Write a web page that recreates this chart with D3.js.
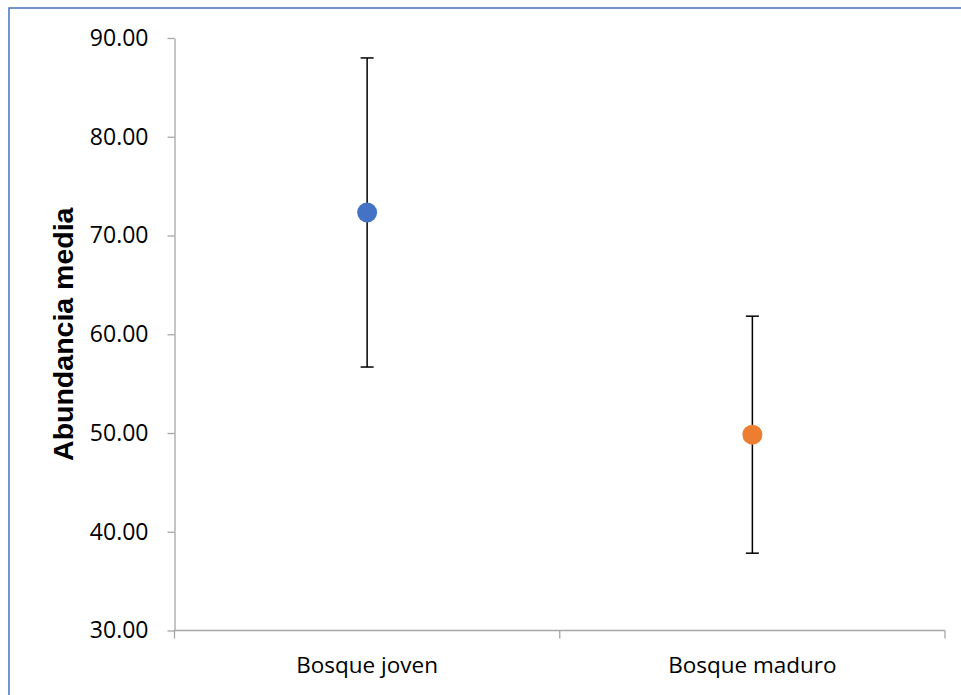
<!DOCTYPE html>
<html>
<head>
<meta charset="utf-8">
<script src="https://cdn.jsdelivr.net/npm/d3@7"></script>
<style>
  html, body { margin: 0; padding: 0; background: #fff; }
  svg { display: block; }
</style>
</head>
<body>
<svg id="chart" width="961" height="695"></svg>
<script>
// Mean abundance per forest type, with error half-widths
const categories = ["Bosque joven", "Bosque maduro"];
const means = [72.33, 49.83];
const errors = [15.65, 12.0];
const colors = ["#4472C4", "#ED7D31"];
const yTicks = [30, 40, 50, 60, 70, 80, 90];
const yLabel = "Abundancia media";

const svg = d3.select("#chart");
const W = 961, H = 695;
const margin = { left: 174.5, right: 16, top: 38, bottom: 64 };

// outer chart-area frame
svg.append("rect")
  .attr("x", 9).attr("y", 8)
  .attr("width", W + 20).attr("height", H + 20)
  .attr("fill", "none")
  .attr("stroke", "#4472C4")
  .attr("stroke-width", 1.5);

const x = d3.scaleBand()
  .domain(categories)
  .range([margin.left, W - margin.right])
  .paddingInner(0).paddingOuter(0);

const y = d3.scaleLinear()
  .domain([30, 90])
  .range([H - margin.bottom - 0.5, margin.top]);

const axisColor = "#A6A6A6";
const tickFont = "'Open Sans', 'Noto Sans', sans-serif";

// y axis
const yAxis = svg.append("g")
  .attr("transform", `translate(${margin.left},0)`)
  .call(d3.axisLeft(y).tickValues(yTicks).tickFormat(d3.format(".2f")).tickSizeInner(7).tickSizeOuter(0).tickPadding(19));
yAxis.select(".domain").attr("stroke", axisColor).attr("stroke-width", 1.3);
yAxis.selectAll(".tick line").attr("stroke", axisColor).attr("stroke-width", 1.3);
yAxis.selectAll(".tick text")
  .attr("fill", "#000")
  .style("font-family", tickFont)
  .style("font-size", "23px");

// x axis with ticks on category boundaries
const xAxisG = svg.append("g")
  .attr("transform", `translate(0,${y(30)})`);
xAxisG.append("line")
  .attr("x1", x.range()[0]).attr("x2", x.range()[1])
  .attr("stroke", axisColor).attr("stroke-width", 1.3);
const boundaries = categories.map(c => x(c)).concat([x.range()[1]]);
xAxisG.selectAll("line.tick")
  .data(boundaries)
  .join("line")
  .attr("class", "tick")
  .attr("x1", d => d).attr("x2", d => d)
  .attr("y1", 0).attr("y2", 8)
  .attr("stroke", axisColor).attr("stroke-width", 1.3);
xAxisG.selectAll("text")
  .data(categories)
  .join("text")
  .attr("x", d => x(d) + x.bandwidth() / 2)
  .attr("y", 42)
  .attr("text-anchor", "middle")
  .attr("fill", "#000")
  .style("font-family", tickFont)
  .style("font-size", "22.5px")
  .text(d => d);

// y axis title
svg.append("text")
  .attr("transform", `translate(73,${(y(30) + y(90)) / 2}) rotate(-90)`)
  .attr("text-anchor", "middle")
  .attr("fill", "#000")
  .style("font-family", "'Liberation Sans', Arial, sans-serif")
  .style("font-weight", "bold")
  .style("font-size", "28.5px")
  .text(yLabel);

// error bars
const data = categories.map((c, i) => ({ c, m: means[i], e: errors[i], color: colors[i] }));
const cx = d => x(d.c) + x.bandwidth() / 2;
const bars = svg.append("g").selectAll("g").data(data).join("g");
bars.append("line")
  .attr("x1", cx).attr("x2", cx)
  .attr("y1", d => y(d.m + d.e)).attr("y2", d => y(d.m - d.e))
  .attr("stroke", "#000").attr("stroke-width", 1.5);
bars.selectAll("line.cap")
  .data(d => [d.m + d.e, d.m - d.e].map(v => ({ v, d })))
  .join("line")
  .attr("class", "cap")
  .attr("x1", o => cx(o.d) - 6.5).attr("x2", o => cx(o.d) + 6.5)
  .attr("y1", o => y(o.v)).attr("y2", o => y(o.v))
  .attr("stroke", "#000").attr("stroke-width", 1.5);

// mean markers
svg.append("g").selectAll("circle").data(data).join("circle")
  .attr("cx", cx)
  .attr("cy", d => y(d.m))
  .attr("r", 10)
  .attr("fill", d => d.color);
</script>
</body>
</html>
